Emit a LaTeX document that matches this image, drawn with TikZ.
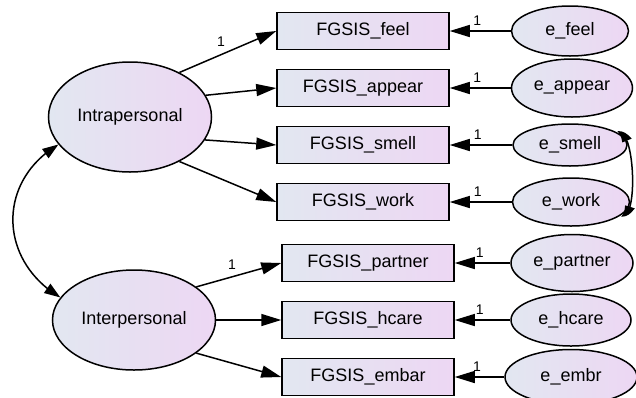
\documentclass[tikz,border=0pt]{standalone}
\usepackage{fontspec}
\setmainfont{Liberation Sans}
\usetikzlibrary{shapes.geometric,arrows.meta,bending}
\definecolor{shadel}{RGB}{226,231,241}
\definecolor{shader}{RGB}{237,215,243}
\tikzset{
	obs/.style = {draw, line width=1.5pt, left color=shadel, right color=shader,
		minimum width=172pt, minimum height=37pt, inner sep=0pt,
		font=\fontsize{18}{20}\selectfont},
	lat/.style = {ellipse, draw, line width=1.5pt, left color=shadel, right color=shader,
		minimum width=163pt, inner sep=0pt, font=\fontsize{18}{20}\selectfont},
	err/.style = {lat},
	path/.style = {line width=1.5pt, -{Triangle[length=20pt,width=12pt]}},
	cov/.style = {line width=1.5pt, {Triangle[length=16pt,width=11pt]}-{Triangle[length=16pt,width=11pt]}},
	tightcov/.style = {line width=1.5pt, {Triangle[length=12pt,width=10pt,bend]}-{Triangle[length=12pt,width=10pt,bend]}},
	one/.style = {font=\fontsize{14}{16}\selectfont, inner sep=1pt}
}
\begin{document}
\begin{tikzpicture}[x=1pt,y=-1pt]
	\useasboundingbox (0,0) rectangle (636,397);
	\node[lat, minimum height=110pt] (intra) at (130,117) {Intrapersonal};
	\node[lat, minimum height=100pt] (inter) at (134,320) {Interpersonal};
	\foreach \n/\y in {feel/31, appear/88, smell/145, work/202}
		\node[obs] (\n) at (363,\y) {FGSIS\_\n};
	\foreach \n/\y in {partner/263, hcare/320, embar/377}
		\node[obs] (\n) at (368,\y) {FGSIS\_\n};
	\foreach \n/\t/\x/\y/\w/\h in {feel/feel/570/31/117/50, appear/appear/572/88/121/58,
			smell/smell/570/145/114/42, work/work/571/202/117/48,
			partner/partner/572/263/122/57, hcare/hcare/571/320/120/52,
			embar/embr/571/377/132/55}
		\node[err, minimum width=\w pt, minimum height=\h pt] (e\n) at (\x,\y) {e\_\t};
	\draw[path] (intra.42) -- node[one, pos=0.43, above=6pt] {1} (feel.west);
	\foreach \n/\a in {appear/16, smell/-17, work/-42}
		\draw[path] (intra.\a) -- (\n.west);
	\draw[path] (inter.28) -- node[one, pos=0.42, above=6pt] {1} (partner.west);
	\foreach \n/\a in {hcare/0, embar/-28}
		\draw[path] (inter.\a) -- (\n.west);
	\foreach \n in {feel, appear, smell, work, partner, hcare, embar}
		\draw[path] (e\n) -- node[one, pos=0.55, above=4pt] {1} (\n.east);
	\draw[cov] (intra.201) .. controls +(-62,37) and +(-62,-37) .. (inter.163);
	\draw[tightcov] (esmell.15) .. controls +(18,-8) and +(18,8) .. (ework.-15);
\end{tikzpicture}
\end{document}
